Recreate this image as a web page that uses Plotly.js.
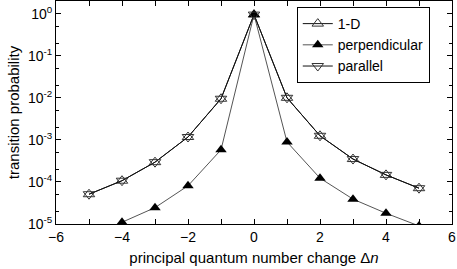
<!DOCTYPE html>
<html><head><meta charset="utf-8">
<script src="https://cdn.plot.ly/plotly-3.0.1.min.js"></script>
<style>body{margin:0;padding:0;background:#fff}#chart{width:457px;height:269px}</style>
</head><body><div id="chart"></div>
<script>
const dn = [-5,-4,-3,-2,-1,0,1,2,3,4,5];
const oneD = [5.1e-5,1.07e-4,2.95e-4,1.17e-3,9.5e-3,0.95,1.0e-2,1.25e-3,3.5e-4,1.47e-4,7.1e-5];
const perpendicular = [4.5e-6,1.1e-5,2.45e-5,8.1e-5,5.8e-4,0.95,8.9e-4,1.23e-4,3.9e-5,1.8e-5,9e-6];
const parallel = [5.1e-5,1.07e-4,2.95e-4,1.17e-3,9.5e-3,0.95,1.0e-2,1.25e-3,3.5e-4,1.47e-4,7.1e-5];
const yTickVals = [1e-5,1e-4,1e-3,1e-2,1e-1,1];
const yTickText = ['10<sup>-5</sup>','10<sup>-4</sup>','10<sup>-3</sup>','10<sup>-2</sup>','10<sup>-1</sup>','10<sup>0</sup>'];
const font = {family:'Liberation Sans, Arial, sans-serif', size:15, color:'#000'};
const traces = [
 {x:dn, y:oneD, name:'1-D', mode:'lines+markers', line:{color:'#111',width:1},
  marker:{symbol:'triangle-up-open', size:10, color:'#333', line:{width:1}}},
 {x:dn, y:perpendicular, name:'perpendicular', mode:'lines+markers', line:{color:'#555',width:1},
  marker:{symbol:'triangle-up', size:10, color:'#000'}},
 {x:dn, y:parallel, name:'parallel', mode:'lines+markers', line:{color:'#111',width:1},
  marker:{symbol:'triangle-down-open', size:10, color:'#333', line:{width:1}}}
];
const layout = {
 width:457, height:269, autosize:false,
 margin:{l:56, r:5, t:1, b:45},
 paper_bgcolor:'#fff', plot_bgcolor:'#fff',
 font: font, showlegend:true,
 legend:{x:0.608, y:0.973, xanchor:'left', yanchor:'top', bordercolor:'#000', borderwidth:1,
   bgcolor:'#fff', font:{family:font.family, size:14, color:'#000'}, tracegroupgap:0},
 xaxis:{range:[-6,6], dtick:2, tick0:-6, ticks:'inside', ticklen:5, tickcolor:'#000',
   showline:true, linecolor:'#000', linewidth:1, mirror:'allticks', showgrid:false, zeroline:false,
   tickfont:{family:font.family,size:14,color:'#000'},
   minor:{dtick:1, ticks:'inside', ticklen:5, tickcolor:'#000', showgrid:false},
   title:{text:'principal quantum number change Δ<i>n</i>', font:{family:font.family,size:15,color:'#000'}, standoff:8}},
 yaxis:{type:'log', range:[-5, Math.log10(2)], tickvals:yTickVals, ticktext:yTickText,
   ticks:'inside', ticklen:5, tickcolor:'#000',
   showline:true, linecolor:'#000', linewidth:1, mirror:'allticks', showgrid:false, zeroline:false,
   tickfont:{family:font.family,size:14,color:'#000'},
   minor:{ticks:'inside', ticklen:3, tickcolor:'#000', showgrid:false},
   title:{text:'transition probability', font:{family:font.family,size:15,color:'#000'}, standoff:4}}
};
Plotly.newPlot('chart', traces, layout, {displayModeBar:false, staticPlot:true});
</script></body></html>
